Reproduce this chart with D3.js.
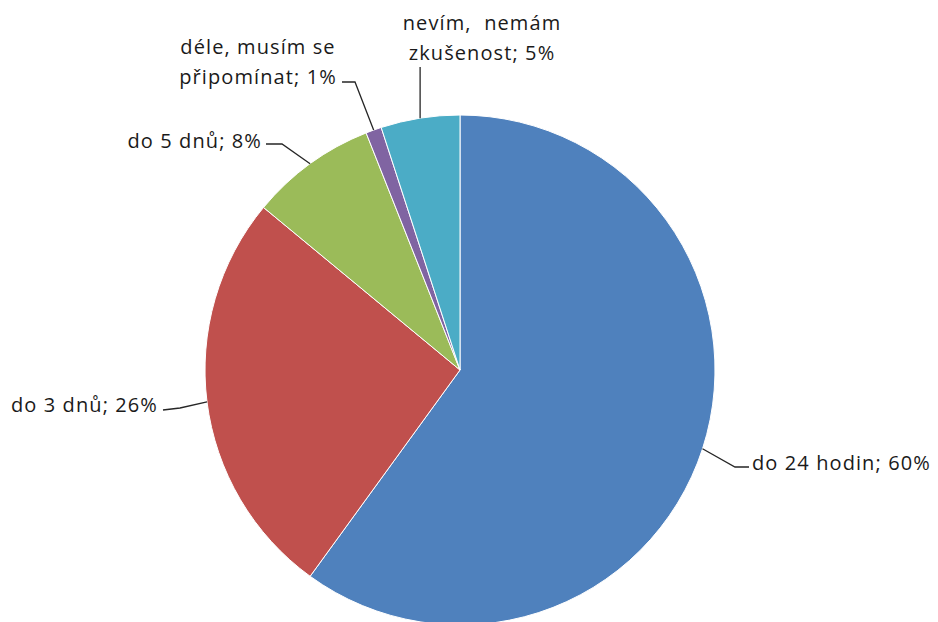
<!DOCTYPE html>
<html><head><meta charset="utf-8">
<script src="https://cdn.jsdelivr.net/npm/d3@7"></script>
<style>body{margin:0;background:#fff}svg{display:block}text{font-family:"Open Sans",sans-serif;font-size:20px;letter-spacing:1.1px;fill:#1a1a1a;white-space:pre}</style>
</head><body><svg id="c" width="938" height="622"></svg>
<script>
const categories = ["do 24 hodin", "do 3 dnů", "do 5 dnů", "déle, musím se připomínat", "nevím,  nemám zkušenost"];
const values = [60, 26, 8, 1, 5];
const labelLines = [["do 24 hodin; 60%"], ["do 3 dnů; 26%"], ["do 5 dnů; 8%"], ["déle, musím se", "připomínat; 1%"], ["nevím,  nemám", "zkušenost; 5%"]];
const colors = ["#4F81BD", "#C0504D", "#9BBB59", "#8064A2", "#4BACC6"];

const svg = d3.select("#c");
const cx = 460, cy = 370, r = 255;
const g = svg.append("g").attr("transform", `translate(${cx},${cy})`);
const pie = d3.pie().sort(null).value(d => d);
const arcs = pie(values);
const arc = d3.arc().innerRadius(0).outerRadius(r);
g.selectAll("path").data(arcs).enter().append("path")
  .attr("d", arc).attr("fill", (d, i) => colors[i])
  .attr("stroke", "#fff").attr("stroke-width", 1);

// label layout (positions in px)
const layout = [
  {x: 752, y: 470, anchor: "start", lh: 0, line: [[735,467],[749,467]]},
  {x: 158, y: 412, anchor: "end", lh: 0, line: [[180,408],[163,410]]},
  {x: 262, y: 148, anchor: "end", lh: 0, line: [[282,144],[266,144]]},
  {x: 258, y: 54, anchor: "middle", lh: 30, line: [[355,82],[342,82]]},
  {x: 482, y: 30, anchor: "middle", lh: 30, line: null}
];
const lineGen = d3.line();
arcs.forEach((a, i) => {
  const L = layout[i];
  const mid = (a.startAngle + a.endAngle) / 2;
  const p0 = [cx + r * Math.sin(mid), cy - r * Math.cos(mid)];
  const pts = L.line ? [p0].concat(L.line) : [p0, [p0[0], 67]];
  svg.append("path").attr("d", lineGen(pts)).attr("fill", "none").attr("stroke", "#262626").attr("stroke-width", 1.3);
  const t = svg.append("text").attr("text-anchor", L.anchor);
  labelLines[i].forEach((s, j) => {
    t.append("tspan").attr("x", L.x).attr("y", L.y + j * L.lh).text(s);
  });
});
</script></body></html>
